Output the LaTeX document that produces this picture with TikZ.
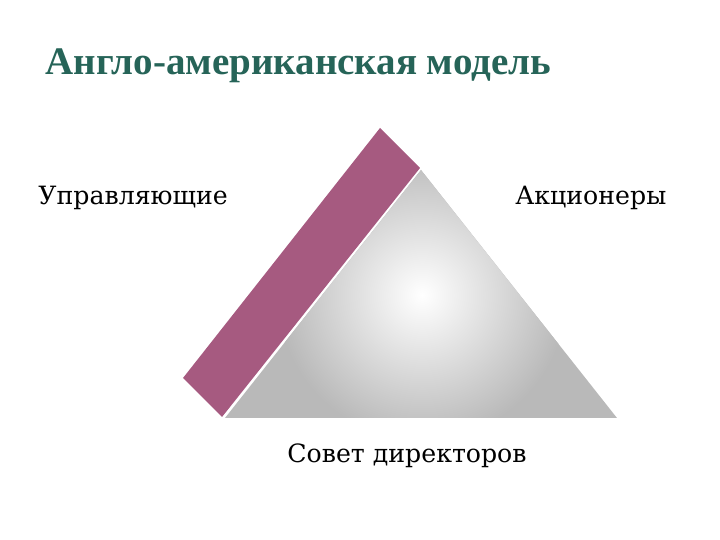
\documentclass[tikz,border=0pt]{standalone}
\usepackage{fontspec}
\setmainfont{Liberation Serif}
\newfontfamily\labelfont{DejaVu Serif}
\usepackage{xcolor}
\definecolor{titlegreen}{RGB}{38,100,88}
\definecolor{bandpink}{RGB}{166,90,128}
\usetikzlibrary{positioning}

\begin{document}
\begin{tikzpicture}[x=0.5pt,y=-0.5pt,
			lbl/.style={font=\labelfont\fontsize{12.6}{14}\selectfont,inner sep=0pt},
			ttl/.style={font=\bfseries\fontsize{19.5}{24}\selectfont,text=titlegreen,inner sep=0pt}]
		\useasboundingbox (0,0) rectangle (720,540);
		\node[ttl,anchor=base west] (title) at (45,75) {Англо-американская модель};
		% triangle
		\coordinate (apex) at (421,170);
		\coordinate (bl) at (225,418);
		\coordinate (br) at (617,418);
		\begin{scope}
			\clip (apex) -- (bl) -- (br) -- cycle;
			\fill[gray!55] (200,150) rectangle (640,430);
			\shade[inner color=white,outer color=gray!55] (422,295) circle (145);
		\end{scope}
		% band
		\fill[bandpink] (380,128) -- (420,168) -- (222,417) -- (183,378) -- cycle;
		\node[lbl,anchor=west] (mgr) at (38,198) {Управляющие};
		\node[lbl,anchor=west] (own) at (515,198) {Акционеры};
		\node[lbl,anchor=west] (board) at (287,456) {Совет директоров};
	\end{tikzpicture}
\end{document}
